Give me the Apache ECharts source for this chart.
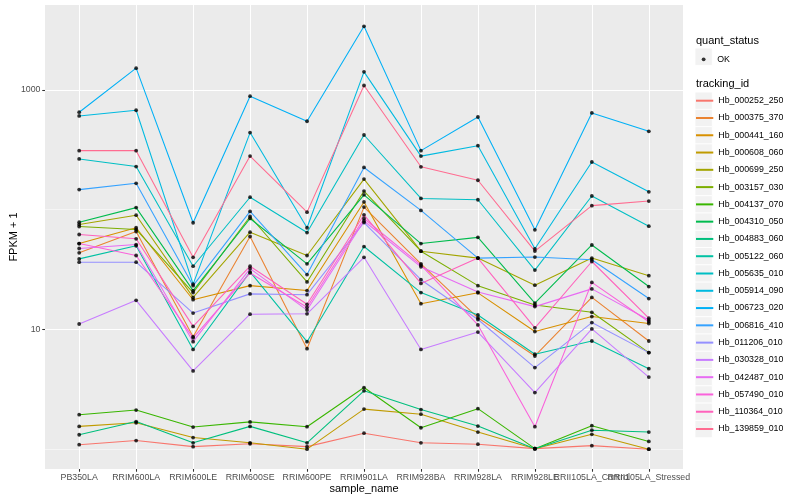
<!DOCTYPE html>
<html><head><meta charset="utf-8">
<script src="https://cdn.jsdelivr.net/npm/echarts@6/dist/echarts.min.js"></script>
<style>html,body{margin:0;padding:0;background:#fff}#c{width:800px;height:500px}</style>
</head><body><div id="c"></div>
<script>
// ---- data ----
const categories = ['PB350LA','RRIM600LA','RRIM600LE','RRIM600SE','RRIM600PE','RRIM901LA','RRIM928BA','RRIM928LA','RRIM928LE','RRII105LA_Control','RRII105LA_Stressed'];
const trackingIds = ['Hb_000252_250','Hb_000375_370','Hb_000441_160','Hb_000608_060','Hb_000699_250','Hb_003157_030','Hb_004137_070','Hb_004310_050','Hb_004883_060','Hb_005122_060','Hb_005635_010','Hb_005914_090','Hb_006723_020','Hb_006816_410','Hb_011206_010','Hb_030328_010','Hb_042487_010','Hb_057490_010','Hb_110364_010','Hb_139859_010'];
const Hb_000252_250 = [1.09, 1.18, 1.05, 1.11, 1.05, 1.36, 1.13, 1.10, 1.01, 1.07, 1.00];
const Hb_000375_370 = [43.6, 65.7, 8.7, 59.7, 6.9, 105, 35.3, 12.5, 6.0, 18.5, 8.0];
const Hb_000441_160 = [52.1, 70.6, 17.7, 23.2, 21.1, 116, 16.4, 20.2, 9.6, 12.8, 11.2];
const Hb_000608_060 = [1.55, 1.66, 1.25, 1.13, 1.00, 2.16, 1.96, 1.39, 1.01, 1.33, 1.00];
const Hb_000699_250 = [75.2, 89.9, 18.5, 64.8, 41.4, 180, 45.0, 39.4, 23.4, 39.4, 28.1];
const Hb_003157_030 = [72.3, 68.3, 20.3, 87.7, 24.9, 143, 45.0, 23.2, 16.0, 13.9, 6.4];
const Hb_004137_070 = [1.94, 2.12, 1.53, 1.69, 1.54, 3.27, 1.51, 2.18, 1.01, 1.57, 1.16];
const Hb_004310_050 = [78.6, 104, 21.1, 84.4, 35.3, 133, 52.1, 58.7, 16.6, 50.7, 22.8];
const Hb_004883_060 = [1.32, 1.70, 1.13, 1.55, 1.13, 3.07, 2.14, 1.56, 1.01, 1.44, 1.39];
const Hb_005122_060 = [38.8, 49.9, 6.8, 30.2, 7.9, 49.2, 20.3, 13.2, 6.2, 8.0, 4.7];
const Hb_005635_010 = [265, 229, 33.7, 127, 64.4, 420, 124, 121, 31.3, 130, 72.8];
const Hb_005914_090 = [606, 676, 23.9, 440, 70.6, 1414, 280, 342, 47.1, 250, 141];
const Hb_006723_020 = [651, 1519, 77.7, 886, 547, 3394, 311, 594, 67.9, 642, 451];
const Hb_006816_410 = [147, 166, 23.2, 96.6, 28.7, 225, 98.5, 39.4, 40.2, 38.2, 18.1];
const Hb_011206_010 = [36.4, 36.4, 13.7, 19.8, 19.5, 78.1, 26.0, 12.1, 4.8, 11.4, 6.4];
const Hb_030328_010 = [11.1, 17.5, 4.5, 13.4, 13.5, 40.0, 6.8, 9.5, 2.97, 10.1, 4.0];
const Hb_042487_010 = [47.4, 51.1, 7.9, 32.2, 14.5, 80.4, 33.3, 20.5, 15.5, 21.8, 12.0];
const Hb_057490_010 = [52.1, 41.4, 8.5, 29.6, 15.3, 84.4, 34.4, 10.9, 1.54, 24.7, 11.6];
const Hb_110364_010 = [62.0, 57.1, 10.6, 33.7, 16.2, 90.6, 24.2, 39.4, 10.3, 36.9, 12.4];
const Hb_139859_010 = [311, 311, 40.0, 280, 95.3, 1088, 228, 176, 45.1, 108, 118];
const seriesValues = [Hb_000252_250,Hb_000375_370,Hb_000441_160,Hb_000608_060,Hb_000699_250,Hb_003157_030,Hb_004137_070,Hb_004310_050,Hb_004883_060,Hb_005122_060,Hb_005635_010,Hb_005914_090,Hb_006723_020,Hb_006816_410,Hb_011206_010,Hb_030328_010,Hb_042487_010,Hb_057490_010,Hb_110364_010,Hb_139859_010];
const yMajorTicks = [10, 1000];
const yMinorTicks = [1, 100];
const quantStatus = 'OK';

// ---- styles ----
const palette = ['#F8766D','#EA8331','#D89000','#C09B00','#A3A500','#7CAE00','#39B600','#00BB4E','#00BF7D','#00C1A3','#00BFC4','#00BAE0','#00B0F6','#35A2FF','#9590FF','#C77CFF','#E76BF3','#FA62DB','#FF62BC','#FF6C91'];
const FONT = 'Liberation Sans, Arial, Helvetica, sans-serif';
const YMIN = 0.683, YMAX = 5115;
const KEY = 17.28, LEG_X = 695, LEG_TOP = 92.06, OK_Y = 56.7;
const DOT = 3.8;

const catIdx = categories.map((c, i) => i);
const evenIdx = catIdx.filter(i => i % 2 === 0);
const oddIdx = catIdx.filter(i => i % 2 === 1);

const lineSeries = trackingIds.map((id, k) => ({
  name: id, type: 'line', symbol: 'none', z: 2,
  data: seriesValues[k].map((v, i) => [i, v]),
  lineStyle: { color: palette[k], width: 1.07 },
  itemStyle: { color: palette[k] },
  emphasis: { disabled: true }, animation: false
}));
const pointSeries = {
  name: quantStatus, type: 'scatter', symbol: 'circle', symbolSize: DOT, z: 3,
  data: seriesValues.flatMap(vals => vals.map((v, i) => [i, v])),
  itemStyle: { color: '#000' }, emphasis: { disabled: true }, animation: false
};

const graphics = [];
graphics.push({ type: 'rect', z: 1, shape: { x: LEG_X, y: OK_Y - KEY / 2, width: KEY, height: KEY }, style: { fill: '#F2F2F2', stroke: '#fff', lineWidth: 0.8 } });
trackingIds.forEach((id, k) => {
  graphics.push({ type: 'rect', z: 1, shape: { x: LEG_X, y: LEG_TOP + k * KEY, width: KEY, height: KEY }, style: { fill: '#F2F2F2', stroke: '#fff', lineWidth: 0.8 } });
});
graphics.push({ type: 'text', z: 2, style: { x: 696, y: 40.7, text: 'quant_status', font: '11px ' + FONT, fill: '#000', verticalAlign: 'middle', align: 'left' } });
graphics.push({ type: 'text', z: 2, style: { x: 696, y: 84.3, text: 'tracking_id', font: '11px ' + FONT, fill: '#000', verticalAlign: 'middle', align: 'left' } });

const xLabelStyle = { formatter: v => categories[Math.round(v)], color: '#4D4D4D', fontSize: 8.8, fontFamily: FONT, margin: 4.5, hideOverlap: false, showMinLabel: true, showMaxLabel: true };

const option = {
  animation: false,
  backgroundColor: '#fff',
  grid: { left: 45, right: 117, top: 5, bottom: 31, show: true, backgroundColor: '#EBEBEB', borderWidth: 0, containLabel: false, outerBoundsMode: 'none' },
  xAxis: [{
    type: 'value', min: -0.6, max: 10.6, position: 'bottom',
    axisLine: { show: false, onZero: false },
    axisTick: { show: true, customValues: catIdx, length: 2.75, lineStyle: { color: '#333333', width: 1.07 } },
    axisLabel: Object.assign({ customValues: evenIdx }, xLabelStyle),
    splitLine: { show: true, lineStyle: { color: '#FFFFFF', width: 1.07 } },
    name: 'sample_name', nameLocation: 'middle', nameGap: 14, nameMoveOverlap: false,
    nameTextStyle: { color: '#000', fontSize: 11, fontFamily: FONT }
  }, {
    type: 'value', min: -0.6, max: 10.6, position: 'bottom', offset: 0,
    axisLine: { show: false, onZero: false },
    axisTick: { show: false, customValues: oddIdx },
    axisLabel: Object.assign({ customValues: oddIdx }, xLabelStyle),
    splitLine: { show: false }
  }],
  yAxis: [{
    type: 'log', logBase: 10, min: YMIN, max: YMAX,
    axisLine: { show: false, onZero: false },
    axisTick: { show: true, customValues: yMajorTicks, length: 2.75, lineStyle: { color: '#333333', width: 1.07 } },
    axisLabel: { customValues: yMajorTicks, formatter: v => String(Math.round(v)), color: '#4D4D4D', fontSize: 8.8, fontFamily: FONT, margin: 4.5 },
    splitLine: { show: true, lineStyle: { color: '#FFFFFF', width: 1.07 } },
    name: 'FPKM + 1', nameLocation: 'middle', nameGap: 26, nameMoveOverlap: false,
    nameTextStyle: { color: '#000', fontSize: 11, fontFamily: FONT }
  }, {
    type: 'log', logBase: 10, min: YMIN, max: YMAX,
    axisLine: { show: false, onZero: false },
    axisTick: { show: false, customValues: yMinorTicks },
    axisLabel: { show: false, customValues: yMinorTicks },
    splitLine: { show: true, lineStyle: { color: '#FFFFFF', width: 0.53 } }
  }],
  legend: [{
    data: trackingIds, orient: 'vertical', left: LEG_X, top: LEG_TOP + KEY / 2 - KEY * 0.4, padding: 0,
    itemWidth: KEY, itemHeight: KEY, itemGap: KEY * 0.2, z: 5,
    itemStyle: { opacity: 0 },
    textStyle: { color: '#000', fontSize: 8.8, fontFamily: FONT },
    selectedMode: false
  }, {
    data: [quantStatus], orient: 'vertical', left: LEG_X + (KEY - DOT) / 2, top: OK_Y - DOT / 2, padding: 0,
    itemWidth: DOT, itemHeight: DOT, itemGap: 0, z: 5, icon: 'circle',
    textStyle: { color: '#000', fontSize: 8.8, fontFamily: FONT, padding: [0, 0, 0, (KEY - DOT) / 2] },
    selectedMode: false
  }],
  graphic: graphics,
  series: [...lineSeries, pointSeries]
};
const chart = echarts.init(document.getElementById('c'), null, { renderer: 'canvas' });
chart.setOption(option);
</script></body></html>
